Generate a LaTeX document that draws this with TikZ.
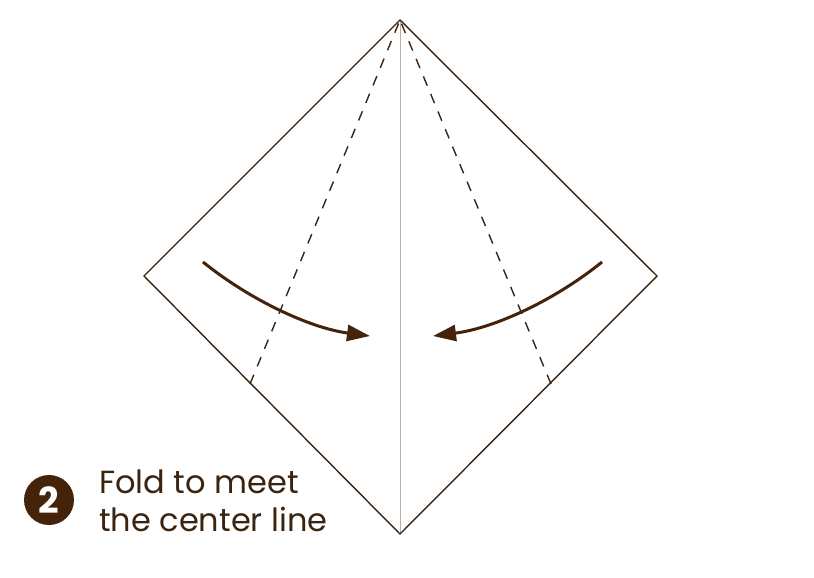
\documentclass[tikz,border=0pt]{standalone}
\usepackage{fontspec}
\setmainfont{Poppins}
\usetikzlibrary{arrows.meta}
\definecolor{outl}{HTML}{3A2410}
\definecolor{arr}{HTML}{45220A}
\definecolor{cline}{HTML}{B8B0AA}
\begin{document}
\begin{tikzpicture}[x=1pt,y=-1pt,
  paper/.style={draw=outl,line width=1.4pt,line join=miter},
  foldline/.style={draw=outl,line width=1.4pt,dash pattern=on 10pt off 9pt},
  movearrow/.style={draw=arr,line width=3pt,-{Triangle[length=23pt,width=16pt]}},
  label/.style={text=outl,font=\fontsize{32}{38}\selectfont,anchor=base west,inner sep=0pt}]
\useasboundingbox (0,0) rectangle (814,578);
\coordinate (T) at (400,20);
\coordinate (L) at (144,276);
\coordinate (R) at (657,276);
\coordinate (B) at (400,534);
\coordinate (DL) at (250,384);
\coordinate (DR) at (551,384);
\draw[cline,line width=0.9pt] (T) -- (B);
\draw[paper] (T) -- (L) -- (B) -- (R) -- cycle;
\draw[foldline] (DL) -- (T);
\draw[foldline] (DR) -- (T);
\coordinate (a1) at (203,262);
\coordinate (a2) at (370,336);
\coordinate (b1) at (602,262);
\coordinate (b2) at (433,336);
\draw[movearrow] (a1) .. controls (250,300) and (310,328) .. (a2);
\draw[movearrow] (b1) .. controls (555,300) and (495,328) .. (b2);
\node[circle,fill=arr,minimum size=50pt,inner sep=0pt,text=white,font=\fontsize{36}{36}\selectfont\bfseries] (badge) at (49,500) {2};
\node[label] (txt1) at (99,493) {Fold to meet};
\node[label] (txt2) at (99,531) {the center line};
\end{tikzpicture}
\end{document}
